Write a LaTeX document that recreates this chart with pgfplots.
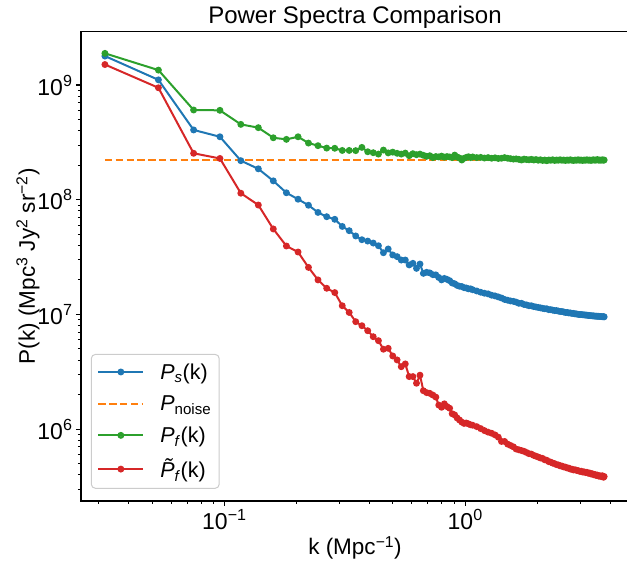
\documentclass[border=0pt]{standalone}
\usepackage{fontspec}
\setmainfont{Liberation Sans}
\usepackage{graphicx}
\usepackage{pgfplots}
\pgfplotsset{compat=1.18}

\definecolor{mplblue}{HTML}{1F77B4}
\definecolor{mplorange}{HTML}{FF7F0E}
\definecolor{mplgreen}{HTML}{2CA02C}
\definecolor{mplred}{HTML}{D62728}

% exponent label in the text font, with a real minus sign
\newcommand{\logticklabel}[1]{%
  \pgfmathtruncatemacro{\ex}{round(#1/2.302585093)}%
  10\textsuperscript{\ifnum\ex<0 −\the\numexpr-\ex\relax\else\ex\fi}}

\begin{document}
\begin{tikzpicture}
\begin{axis}[
  at={(0,0)}, anchor=south west,
  scale only axis,
  width=548pt, height=469.3pt,
  xmode=log, ymode=log,
  xmin=0.02537, xmax=4.79,
  ymin=2.36e5, ymax=2.92e9,
  tick pos=left,
  tick align=outside,
  major tick length=5pt, minor tick length=3pt,
  every major tick/.append style={black, line width=1.1pt},
  every minor tick/.append style={black, line width=0.85pt},
  axis line style={line width=1.1pt},
  xticklabel={\logticklabel{\tick}},
  yticklabel={\logticklabel{\tick}},
  tick label style={font=\fontsize{23}{27}\selectfont},
  label style={font=\fontsize{22.5}{26}\selectfont},
  xlabel={k (Mpc\textsuperscript{−1})},
  xlabel style={at={(axis description cs:0.5,0)}, anchor=center, yshift=-47pt},
  ylabel={P(k) (Mpc\textsuperscript{3} Jy\textsuperscript{2} sr\textsuperscript{−2})},
  ylabel style={at={(axis description cs:-0.0967,0.5)}, anchor=center},
  title={Power Spectra Comparison},
  title style={font=\fontsize{24}{28}\selectfont, at={(axis description cs:0.5,1)},
    anchor=center, yshift=8pt},
  legend cell align=left,
  legend style={at={(0.018,0.026)}, anchor=south west,
    draw=black!20, line width=1pt, rounded corners=4pt,
    fill=white, fill opacity=0.8, text opacity=1,
    font=\fontsize{21.5}{25}\selectfont,
    row sep=11pt, inner xsep=6pt, inner ysep=7pt,
    /tikz/every odd column/.append style={column sep=14pt}},
  legend image code/.code={%
    \draw[mark repeat=2,mark phase=2,#1]
      plot coordinates {(0pt,0pt) (22.5pt,0pt) (45pt,0pt)};},
  every axis plot/.append style={line width=2pt},
  mark size=2.4pt,
]

\addplot[mplblue, mark=*, mark options={solid, fill=mplblue, draw=mplblue}] coordinates {
(0.0319,1.79e9) (0.0532,1.11e9) (0.0745,4.06e8) (0.0958,3.54e8) (0.1170,2.19e8)
(0.1383,1.86e8) (0.1596,1.46e8) (0.1809,1.15e8) (0.2022,1.01e8) (0.2234,8.95e7)
(0.2447,7.75e7) (0.2660,7.11e7) (0.2873,6.75e7) (0.3086,5.85e7) (0.3298,5.37e7)
(0.3511,4.83e7) (0.3724,4.48e7) (0.3937,4.36e7) (0.4150,4.19e7) (0.4362,3.97e7)
(0.4575,3.45e7) (0.4788,3.72e7) (0.5001,3.30e7) (0.5214,3.19e7) (0.5426,2.98e7)
(0.5639,2.98e7) (0.5852,2.70e7) (0.6065,2.79e7) (0.6278,2.52e7) (0.6490,2.75e7)
(0.6703,2.28e7) (0.6916,2.33e7) (0.7129,2.30e7) (0.7342,2.22e7) (0.7554,2.21e7)
(0.7767,2.10e7) (0.7980,2.00e7) (0.8193,2.06e7) (0.8406,2.02e7) (0.8618,1.97e7)
(0.8831,1.88e7) (0.9044,1.85e7) (0.9257,1.79e7) (0.9470,1.76e7) (0.9682,1.75e7)
(0.9895,1.71e7) (1.0108,1.70e7) (1.0321,1.67e7) (1.0534,1.67e7) (1.0746,1.64e7)
(1.1172,1.60e7) (1.1598,1.56e7) (1.2023,1.53e7) (1.2449,1.51e7) (1.2874,1.47e7)
(1.3300,1.45e7) (1.3726,1.42e7) (1.4151,1.39e7) (1.4577,1.35e7) (1.5002,1.33e7)
(1.5428,1.31e7) (1.5854,1.30e7) (1.6279,1.28e7) (1.6705,1.25e7) (1.7130,1.25e7)
(1.7556,1.22e7) (1.7982,1.21e7) (1.8407,1.19e7) (1.8833,1.19e7) (1.9258,1.17e7)
(1.9684,1.16e7) (2.0110,1.15e7) (2.0535,1.14e7) (2.0961,1.13e7) (2.1386,1.12e7)
(2.1812,1.12e7) (2.2238,1.10e7) (2.2663,1.10e7) (2.3089,1.09e7) (2.3514,1.08e7)
(2.3940,1.08e7) (2.4366,1.07e7) (2.4791,1.06e7) (2.5217,1.06e7) (2.5642,1.05e7)
(2.6068,1.04e7) (2.6494,1.04e7) (2.6919,1.03e7) (2.7345,1.03e7) (2.7770,1.02e7)
(2.8196,1.02e7) (2.8622,1.01e7) (2.9047,1.01e7) (2.9473,1.00e7) (2.9898,9.98e6)
(3.0324,9.98e6) (3.0750,9.93e6) (3.1175,9.90e6) (3.1601,9.87e6) (3.2026,9.85e6)
(3.2452,9.79e6) (3.2878,9.78e6) (3.3303,9.74e6) (3.3729,9.72e6) (3.4154,9.70e6)
(3.4580,9.66e6) (3.5006,9.65e6) (3.5431,9.62e6) (3.5857,9.63e6) (3.6282,9.59e6)
(3.6708,9.58e6) (3.7134,9.55e6) (3.7559,9.56e6) (3.7772,9.52e6)
};
\addlegendentry{\textit{P}\textsubscript{\textit{s}}(k)}

\addplot[mplorange, dash pattern=on 7.5pt off 3.3pt] coordinates {
(0.0319,2.2e8) (3.7772,2.2e8)
};
\addlegendentry{\textit{P}\textsubscript{noise}}

\addplot[mplgreen, mark=*, mark options={solid, fill=mplgreen, draw=mplgreen}] coordinates {
(0.0319,1.89e9) (0.0532,1.35e9) (0.0745,6.06e8) (0.0958,6.02e8) (0.1170,4.54e8)
(0.1383,4.25e8) (0.1596,3.47e8) (0.1809,3.36e8) (0.2022,3.54e8) (0.2234,3.12e8)
(0.2447,2.96e8) (0.2660,2.82e8) (0.2873,2.81e8) (0.3086,2.69e8) (0.3298,2.69e8)
(0.3511,2.68e8) (0.3724,2.86e8) (0.3937,2.62e8) (0.4150,2.57e8) (0.4362,2.50e8)
(0.4575,2.71e8) (0.4788,2.56e8) (0.5001,2.60e8) (0.5214,2.54e8) (0.5426,2.50e8)
(0.5639,2.55e8) (0.5852,2.42e8) (0.6065,2.52e8) (0.6278,2.47e8) (0.6490,2.50e8)
(0.6703,2.44e8) (0.6916,2.39e8) (0.7129,2.42e8) (0.7342,2.33e8) (0.7554,2.38e8)
(0.7767,2.36e8) (0.7980,2.40e8) (0.8193,2.35e8) (0.8406,2.38e8) (0.8618,2.36e8)
(0.8831,2.33e8) (0.9044,2.45e8) (0.9257,2.36e8) (0.9470,2.31e8) (0.9682,2.22e8)
(0.9895,2.30e8) (1.0108,2.34e8) (1.0321,2.37e8) (1.0534,2.33e8) (1.0746,2.36e8)
(1.1172,2.33e8) (1.1598,2.34e8) (1.2023,2.31e8) (1.2449,2.33e8) (1.2874,2.30e8)
(1.3300,2.32e8) (1.3726,2.29e8) (1.4151,2.30e8) (1.4577,2.33e8) (1.5002,2.30e8)
(1.5428,2.28e8) (1.5854,2.26e8) (1.6279,2.27e8) (1.6705,2.25e8) (1.7130,2.22e8)
(1.7556,2.26e8) (1.7982,2.24e8) (1.8407,2.23e8) (1.8833,2.25e8) (1.9258,2.22e8)
(1.9684,2.24e8) (2.0110,2.21e8) (2.0535,2.23e8) (2.0961,2.20e8) (2.1386,2.22e8)
(2.1812,2.19e8) (2.2238,2.22e8) (2.2663,2.21e8) (2.3089,2.23e8) (2.3514,2.20e8)
(2.3940,2.22e8) (2.4366,2.21e8) (2.4791,2.23e8) (2.5217,2.21e8) (2.5642,2.22e8)
(2.6068,2.20e8) (2.6494,2.22e8) (2.6919,2.21e8) (2.7345,2.23e8) (2.7770,2.21e8)
(2.8196,2.20e8) (2.8622,2.22e8) (2.9047,2.21e8) (2.9473,2.23e8) (2.9898,2.21e8)
(3.0324,2.22e8) (3.0750,2.20e8) (3.1175,2.22e8) (3.1601,2.21e8) (3.2026,2.23e8)
(3.2452,2.21e8) (3.2878,2.22e8) (3.3303,2.20e8) (3.3729,2.22e8) (3.4154,2.23e8)
(3.4580,2.21e8) (3.5006,2.22e8) (3.5431,2.24e8) (3.5857,2.21e8) (3.6282,2.22e8)
(3.6708,2.21e8) (3.7134,2.23e8) (3.7559,2.21e8) (3.7772,2.22e8)
};
\addlegendentry{\textit{P}\textsubscript{\textit{f}}(k)}

\addplot[mplred, mark=*, mark options={solid, fill=mplred, draw=mplred}] coordinates {
(0.0319,1.51e9) (0.0532,9.47e8) (0.0745,2.54e8) (0.0958,2.29e8) (0.1170,1.14e8)
(0.1383,8.99e7) (0.1596,5.56e7) (0.1809,3.95e7) (0.2022,3.50e7) (0.2234,2.57e7)
(0.2447,2.00e7) (0.2660,1.69e7) (0.2873,1.55e7) (0.3086,1.19e7) (0.3298,1.04e7)
(0.3511,8.64e6) (0.3724,7.97e6) (0.3937,7.21e6) (0.4150,6.39e6) (0.4362,5.90e6)
(0.4575,4.97e6) (0.4788,5.06e6) (0.5001,4.34e6) (0.5214,4.01e6) (0.5426,3.50e6)
(0.5639,3.70e6) (0.5852,2.87e6) (0.6065,2.87e6) (0.6278,2.51e6) (0.6490,2.95e6)
(0.6703,2.16e6) (0.6916,2.08e6) (0.7129,2.05e6) (0.7342,1.98e6) (0.7554,1.90e6)
(0.7767,1.62e6) (0.7980,1.55e6) (0.8193,1.66e6) (0.8406,1.57e6) (0.8618,1.52e6)
(0.8831,1.36e6) (0.9044,1.33e6) (0.9257,1.25e6) (0.9470,1.20e6) (0.9682,1.15e6)
(0.9895,1.12e6) (1.0108,1.13e6) (1.0321,1.11e6) (1.0534,1.09e6) (1.0746,1.08e6)
(1.1172,1.05e6) (1.1598,1.01e6) (1.2023,9.70e5) (1.2449,9.40e5) (1.2874,9.20e5)
(1.3300,8.90e5) (1.3726,8.50e5) (1.4151,7.80e5) (1.4577,7.80e5) (1.5002,7.40e5)
(1.5428,7.20e5) (1.5854,7.00e5) (1.6279,6.70e5) (1.6705,6.60e5) (1.7130,6.50e5)
(1.7556,6.40e5) (1.7982,6.25e5) (1.8407,6.10e5) (1.8833,6.05e5) (1.9258,5.90e5)
(1.9684,5.80e5) (2.0110,5.70e5) (2.0535,5.60e5) (2.0961,5.55e5) (2.1386,5.40e5)
(2.1812,5.35e5) (2.2238,5.20e5) (2.2663,5.15e5) (2.3089,5.05e5) (2.3514,5.00e5)
(2.3940,4.90e5) (2.4366,4.87e5) (2.4791,4.78e5) (2.5217,4.76e5) (2.5642,4.68e5)
(2.6068,4.66e5) (2.6494,4.58e5) (2.6919,4.57e5) (2.7345,4.48e5) (2.7770,4.47e5)
(2.8196,4.40e5) (2.8622,4.42e5) (2.9047,4.36e5) (2.9473,4.34e5) (2.9898,4.28e5)
(3.0324,4.29e5) (3.0750,4.22e5) (3.1175,4.24e5) (3.1601,4.18e5) (3.2026,4.20e5)
(3.2452,4.12e5) (3.2878,4.14e5) (3.3303,4.06e5) (3.3729,4.08e5) (3.4154,4.00e5)
(3.4580,4.02e5) (3.5006,3.94e5) (3.5431,3.97e5) (3.5857,3.89e5) (3.6282,3.92e5)
(3.6708,3.85e5) (3.7134,3.92e5) (3.7559,3.80e5) (3.7772,3.86e5)
};
\addlegendentry{\textit{\~P}\textsubscript{\textit{f}}(k)}

\end{axis}
\pgfresetboundingbox
\path[use as bounding box] (-81pt,-64pt) rectangle (546pt,501pt);
\end{tikzpicture}
\end{document}
